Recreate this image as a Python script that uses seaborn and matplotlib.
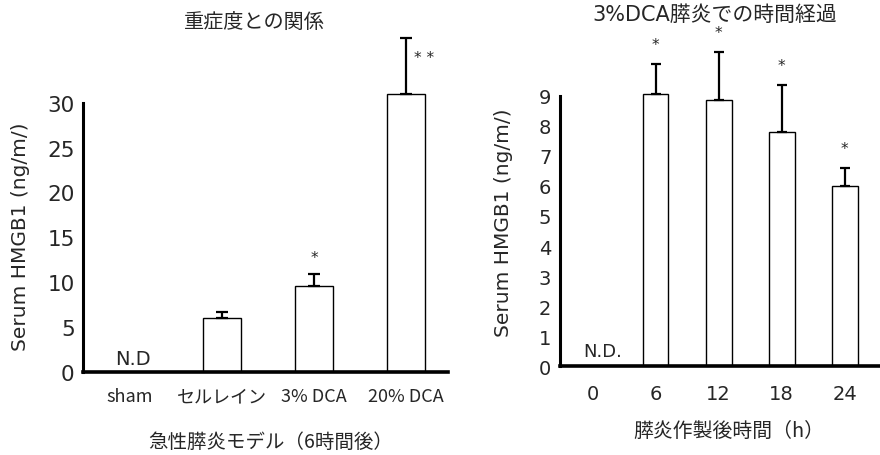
import numpy as np
import pandas as pd
import matplotlib
matplotlib.use("Agg")
import matplotlib.pyplot as plt
import seaborn as sns

# Severity comparison (6 h after induction)
models = ["sham", "セルレイン", "3% DCA", "20% DCA"]
model_means = [np.nan, 6.0, 9.6, 31.0]
model_sd = [np.nan, 0.7, 1.3, 6.2]

# Time course after 3% DCA pancreatitis
hours = ["0", "6", "12", "18", "24"]
hour_means = [np.nan, 9.05, 8.87, 7.8, 6.0]
hour_sd = [np.nan, 1.0, 1.6, 1.57, 0.6]

sns.set_theme(style="white")
LAT = ["DejaVu Sans", "Noto Sans CJK JP"]
JP = ["Noto Sans CJK JP", "DejaVu Sans"]
plt.rcParams["font.family"] = LAT

fig = plt.figure(figsize=(8.8, 4.56), dpi=100)
fig.patch.set_facecolor("white")


def style_axes(ax, top_tick):
    for s in ("top", "right"):
        ax.spines[s].set_visible(False)
    ax.spines["left"].set_linewidth(2.2)
    ax.spines["bottom"].set_linewidth(2.6)
    ax.spines["left"].set_color("black")
    ax.spines["bottom"].set_color("black")
    ax.spines["left"].set_bounds(0, top_tick)
    ax.tick_params(axis="y", direction="out", length=4, width=1.4, color="black", pad=2)
    ax.tick_params(axis="x", length=0)
    ax.set_facecolor("white")
    ax.grid(False)


def upper_errors(ax, means, sds, cap):
    x = np.arange(len(means))
    m = np.nan_to_num(np.array(means, dtype=float))
    s = np.nan_to_num(np.array(sds, dtype=float))
    keep = ~np.isnan(np.array(means, dtype=float))
    ax.errorbar(x[keep], m[keep], yerr=[np.zeros(keep.sum()), s[keep]],
                fmt="none", ecolor="black", elinewidth=1.6, capsize=cap,
                capthick=1.6, zorder=3)


# ---- left panel ----
ax1 = fig.add_axes([0.0943, 0.182, 0.415, 0.748])
df1 = pd.DataFrame({"model": models, "value": model_means})
sns.barplot(data=df1, x="model", y="value", ax=ax1, color="white",
            edgecolor="black", linewidth=1.0, width=0.41, errorbar=None, saturation=1)
upper_errors(ax1, model_means, model_sd, 4.5)
ax1.set_xlim(-0.51, 3.46)
ax1.set_ylim(0, 38)
ax1.set_yticks([0, 5, 10, 15, 20, 25, 30])
style_axes(ax1, 30)
ax1.tick_params(axis="y", labelsize=15.5)
ax1.tick_params(axis="x", labelsize=13, pad=11)
for t in ax1.get_yticklabels():
    t.set_fontfamily(LAT)
for t in ax1.get_xticklabels():
    t.set_fontfamily(JP)
ax1.set_ylabel("Serum HMGB1 (ng/m/)", fontsize=14.5, fontfamily=LAT)
ax1.yaxis.set_label_coords(-0.144, 0.399)
ax1.set_xlabel("急性膵炎モデル（6時間後）", fontsize=14, fontfamily=JP)
ax1.xaxis.set_label_coords(0.515, -0.172)
ax1.set_title("重症度との関係", fontsize=14.5, fontfamily=JP, pad=3, x=0.468)
ax1.text(0.03, 1.45, "N.D", ha="center", va="center", fontsize=14, fontfamily=LAT)
ax1.text(2, model_means[2] + model_sd[2] + 1.9, "*", ha="center", va="center",
         fontsize=11, fontfamily=LAT)
ax1.text(3.2, 35.0, "* *", ha="center", va="center", fontsize=11, fontfamily=LAT)

# ---- right panel ----
ax2 = fig.add_axes([0.636, 0.195, 0.364, 0.757])
df2 = pd.DataFrame({"hour": hours, "value": hour_means})
sns.barplot(data=df2, x="hour", y="value", ax=ax2, color="white",
            edgecolor="black", linewidth=1.0, width=0.41, errorbar=None, saturation=1)
upper_errors(ax2, hour_means, hour_sd, 3.5)
ax2.set_xlim(-0.52, 4.56)
ax2.set_ylim(0, 11.5)
ax2.set_yticks(range(0, 10))
style_axes(ax2, 9)
ax2.tick_params(axis="y", labelsize=14)
ax2.tick_params(axis="x", labelsize=14, pad=13)
for t in ax2.get_yticklabels() + ax2.get_xticklabels():
    t.set_fontfamily(LAT)
ax2.set_ylabel("Serum HMGB1 (ng/m/)", fontsize=14.5, fontfamily=LAT)
ax2.yaxis.set_label_coords(-0.147, 0.417)
ax2.set_xlabel("膵炎作製後時間（h）", fontsize=14.3, fontfamily=JP)
ax2.xaxis.set_label_coords(0.528, -0.155)
ax2.set_title("3%DCA膵炎での時間経過", fontsize=15, fontfamily=LAT, pad=1, x=0.484)
ax2.text(0.16, 0.5, "N.D.", ha="center", va="center", fontsize=13, fontfamily=LAT)
for i in range(1, len(hours)):
    ax2.text(i, hour_means[i] + hour_sd[i] + 0.65, "*", ha="center", va="center",
             fontsize=11, fontfamily=LAT)

fig.savefig("out.png", dpi=100, facecolor="white")
